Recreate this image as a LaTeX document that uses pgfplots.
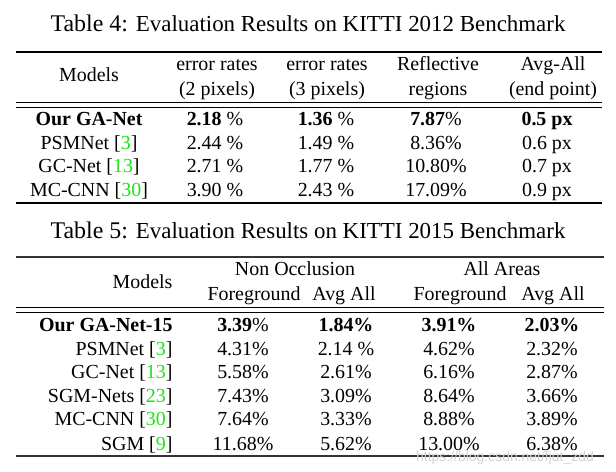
\documentclass[border=0pt]{standalone}
\usepackage{fontspec}
\setmainfont{Liberation Serif}
\newfontfamily\wmfont{Liberation Sans}
\usepackage{pgfplots}
\pgfplotsset{compat=1.18}
\definecolor{citegreen}{rgb}{0.1,0.9,0.1}
\newcommand{\cit}[1]{[\textcolor{citegreen}{#1}]}
\newcommand{\tf}{\fontsize{20}{24}\selectfont}
\begin{document}
\begin{tikzpicture}
\begin{axis}[scale only axis, width=616bp, height=472bp,
  xmin=0, xmax=616, ymin=0, ymax=472, y dir=reverse,
  hide axis, clip=false]
\path (rel axis cs:0,0) rectangle (rel axis cs:1,1);
% ---------------- rules ----------------
\addplot[black, line width=1.3bp] coordinates {(16,52) (602,52)};
\addplot[black, line width=0.8bp] coordinates {(16,102) (602,102)};
\addplot[black, line width=0.8bp] coordinates {(16,107) (602,107)};
\addplot[black, line width=1.3bp] coordinates {(16,203) (602,203)};
\addplot[black!80, line width=1.3bp] coordinates {(16,257) (604,257)};
\addplot[black, line width=0.8bp] coordinates {(16,307) (604,307)};
\addplot[black, line width=0.8bp] coordinates {(16,312) (604,312)};
\addplot[black!80, line width=1.3bp] coordinates {(16,456) (604,456)};
% ---------------- Table 4 ----------------
\node[anchor=base] at (axis cs:308,32) {\fontsize{24}{28}\selectfont Table 4: \fontsize{23}{28}\selectfont Evaluation Results on KITTI 2012 Benchmark};
\begin{scope}[every node/.style={anchor=base, font=\tf}]
\node at (axis cs:89,82) {Models};
\node at (axis cs:217,71) {error rates};
\node at (axis cs:217,95) {(2 pixels)};
\node at (axis cs:327,71) {error rates};
\node at (axis cs:327,95) {(3 pixels)};
\node at (axis cs:438,71) {Reflective};
\node at (axis cs:438,95) {regions};
\node at (axis cs:553,71) {Avg-All};
\node at (axis cs:553,95) {(end point)};
% rows
\node at (axis cs:89,125) {\textbf{Our GA-Net}};
\node at (axis cs:215,125) {\textbf{2.18} \%};
\node at (axis cs:326,125) {\textbf{1.36} \%};
\node at (axis cs:436,125) {\textbf{7.87}\%};
\node at (axis cs:547,125) {\textbf{0.5 px}};
\node at (axis cs:89,149) {PSMNet \cit{3}};
\node at (axis cs:215,149) {2.44 \%};
\node at (axis cs:326,149) {1.49 \%};
\node at (axis cs:436,149) {8.36\%};
\node at (axis cs:547,149) {0.6 px};
\node at (axis cs:89,172) {GC-Net \cit{13}};
\node at (axis cs:215,172) {2.71 \%};
\node at (axis cs:326,172) {1.77 \%};
\node at (axis cs:436,172) {10.80\%};
\node at (axis cs:547,172) {0.7 px};
\node at (axis cs:89,196) {MC-CNN \cit{30}};
\node at (axis cs:215,196) {3.90 \%};
\node at (axis cs:326,196) {2.43 \%};
\node at (axis cs:436,196) {17.09\%};
\node at (axis cs:547,196) {0.9 px};
\end{scope}
% ---------------- Table 5 ----------------
\node[anchor=base] at (axis cs:308,238) {\fontsize{24}{28}\selectfont Table 5: \fontsize{23}{28}\selectfont Evaluation Results on KITTI 2015 Benchmark};
\begin{scope}[every node/.style={anchor=base, font=\tf}]
\node[anchor=base east] at (axis cs:176,288) {Models};
\node at (axis cs:295,275) {Non Occlusion};
\node at (axis cs:502,275) {All Areas};
\node at (axis cs:254,300) {Foreground};
\node at (axis cs:344,300) {Avg All};
\node at (axis cs:460,300) {Foreground};
\node at (axis cs:553,300) {Avg All};
% rows
\node[anchor=base east] at (axis cs:176,331) {\textbf{Our GA-Net-15}};
\node at (axis cs:243,331) {\textbf{3.39}\%};
\node at (axis cs:346,331) {\textbf{1.84\%}};
\node at (axis cs:449,331) {\textbf{3.91\%}};
\node at (axis cs:552,331) {\textbf{2.03\%}};
\node[anchor=base east] at (axis cs:176,355) {PSMNet \cit{3}};
\node at (axis cs:243,355) {4.31\%};
\node at (axis cs:346,355) {2.14 \%};
\node at (axis cs:449,355) {4.62\%};
\node at (axis cs:552,355) {2.32\%};
\node[anchor=base east] at (axis cs:176,378) {GC-Net \cit{13}};
\node at (axis cs:243,378) {5.58\%};
\node at (axis cs:346,378) {2.61\%};
\node at (axis cs:449,378) {6.16\%};
\node at (axis cs:552,378) {2.87\%};
\node[anchor=base east] at (axis cs:176,402) {SGM-Nets \cit{23}};
\node at (axis cs:243,402) {7.43\%};
\node at (axis cs:346,402) {3.09\%};
\node at (axis cs:449,402) {8.64\%};
\node at (axis cs:552,402) {3.66\%};
\node[anchor=base east] at (axis cs:176,425) {MC-CNN \cit{30}};
\node at (axis cs:243,425) {7.64\%};
\node at (axis cs:346,425) {3.33\%};
\node at (axis cs:449,425) {8.88\%};
\node at (axis cs:552,425) {3.89\%};
\node[anchor=base east] at (axis cs:176,450) {SGM \cit{9}};
\node at (axis cs:243,450) {11.68\%};
\node at (axis cs:346,450) {5.62\%};
\node at (axis cs:449,450) {13.00\%};
\node at (axis cs:552,450) {6.38\%};
\end{scope}
\node[overlay, anchor=base west, text=black!18, font=\wmfont\fontsize{14}{16}\selectfont, inner sep=0pt] at (axis cs:416,461) {https://blog.csdn.net/fjut\_zdd};
\end{axis}
\end{tikzpicture}
\end{document}
